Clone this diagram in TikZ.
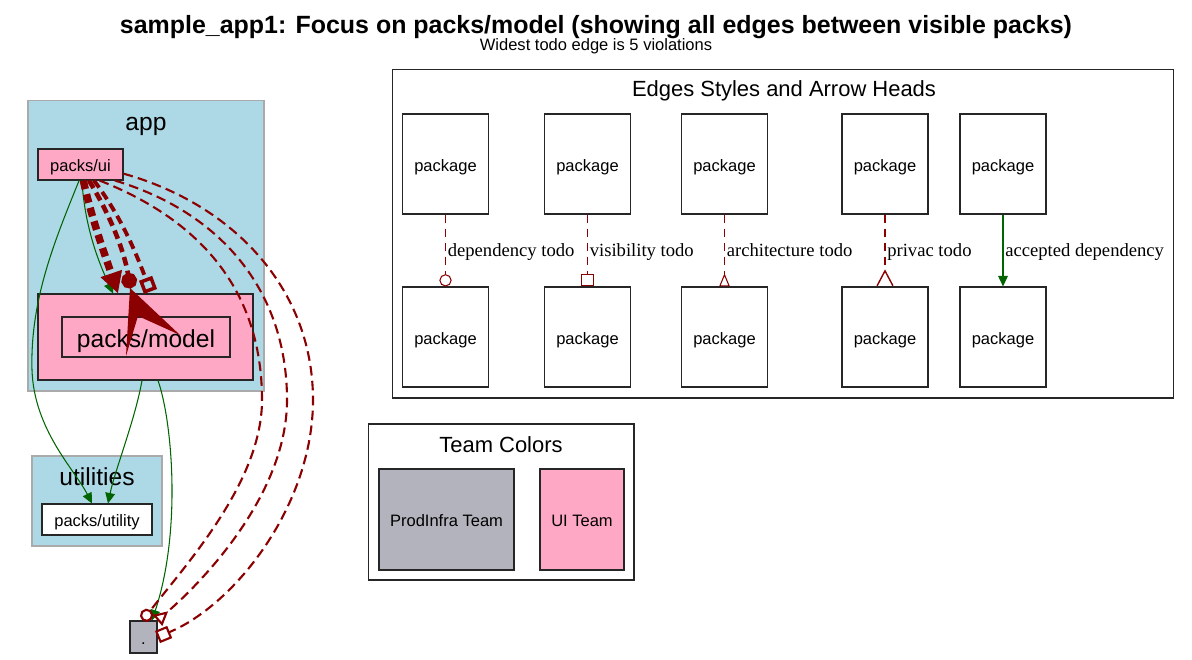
\documentclass[tikz,border=0pt]{standalone}
\usepackage{fontspec}
\setmainfont{Liberation Serif}
\setsansfont{Liberation Sans}
\usetikzlibrary{arrows.meta}

\definecolor{clusterblue}{HTML}{ADD8E6}
\definecolor{teampink}{HTML}{FFA8C5}
\definecolor{teamgray}{HTML}{B3B3BE}
\definecolor{todored}{HTML}{8B0000}
\definecolor{okgreen}{HTML}{006400}
\definecolor{clusteredge}{HTML}{AAAAAA}

\tikzset{
    pack/.style={draw=black!85, line width=0.6pt, inner sep=0pt,
        font=\sffamily\fontsize{9.4}{11}\selectfont, text height=8.5pt, text depth=0pt},
    legendpack/.style={pack, minimum width=1.72cm, minimum height=2cm},
    cluster/.style={draw=clusteredge, fill=clusterblue, line width=0.6pt},
    clusterlabel/.style={font=\sffamily\fontsize{14}{16}\selectfont, inner sep=0pt, anchor=base},
    frame/.style={draw=black!85, line width=0.6pt},
    framelabel/.style={font=\sffamily\fontsize{12.5}{14}\selectfont, inner sep=0pt, anchor=base},
    todo/.style={todored, line width=1.2pt, dash pattern=on 5.5pt off 3pt},
    thintodo/.style={todored, line width=0.6pt, dash pattern=on 5pt off 3pt},
    ok/.style={okgreen, line width=0.6pt, -{Triangle[length=6pt, width=5.5pt]}},
    edgelabel/.style={font=\fontsize{10.6}{12}\selectfont, inner sep=1pt, text=black,
        anchor=base west},
}

\begin{document}
\begin{tikzpicture}[x=0.02cm, y=-0.02cm]
    \useasboundingbox (0,0) rectangle (1192,659);

    \node[font=\sffamily\bfseries\fontsize{14.2}{16}\selectfont, anchor=base] (title) at (596,33.5)
        {sample\_app1: Focus on packs/model (showing all edges between visible packs)};
    \node[font=\sffamily\fontsize{9.4}{11}\selectfont, anchor=base] (subtitle) at (596,50.5)
        {Widest todo edge is 5 violations};

    % app and utilities
    \node[cluster, minimum width=4.72cm, minimum height=5.82cm] (app) at (146,245.5) {};
    \node[clusterlabel] (applabel) at (146,130) {app};
    \node[pack, fill=teampink, minimum width=1.7cm, minimum height=0.62cm] (ui) at (80.5,164.5) {packs/ui};
    \node[pack, fill=teampink, minimum width=4.3cm, minimum height=1.72cm] (modelbox) at (145.5,337) {};
    \node[pack, fill=teampink, minimum width=3.36cm, minimum height=0.8cm, text height=12.4pt,
        font=\sffamily\fontsize{14}{16}\selectfont] (model) at (146,337) {packs/model};

    \node[cluster, minimum width=2.6cm, minimum height=1.8cm] (utilities) at (97,501) {};
    \node[clusterlabel] (utilitieslabel) at (97,485) {utilities};
    \node[pack, fill=white, minimum width=2.2cm, minimum height=0.62cm] (utility) at (97,519.5) {packs/utility};

    \node[pack, fill=teamgray, minimum width=0.54cm, minimum height=0.64cm] (root) at (143.5,637) {.};

    % accepted dependencies
    \draw[ok] (ui.-95) .. controls (55,240) and (30,300) .. (32,370)
        .. controls (34,430) and (75,470) .. ([xshift=-0.1cm]utility.north);
    \draw[ok] (ui.-85) .. controls (85,230) and (100,265) .. ([xshift=-0.65cm]modelbox.north);
    \draw[ok] ([xshift=-0.07cm]modelbox.south) .. controls (135,420) and (115,470) .. ([xshift=0.22cm]utility.north);
    \draw[ok] ([xshift=0.25cm]modelbox.south) .. controls (172,420) and (182,530) .. ([xshift=0.17cm]root.north);

    % todo edges ui -> model
    \draw[todored, line width=4.2pt, dash pattern=on 5pt off 3pt,
        -{Triangle[length=12pt, width=12pt]}]
        (ui.-80) .. controls (92,220) and (105,255) .. ([xshift=-0.55cm]modelbox.north);
    \draw[todored, line width=2.6pt, dash pattern=on 5pt off 3pt,
        -{Circle[length=9pt, fill=todored]}]
        (ui.-62) .. controls (110,215) and (124,250) .. ([xshift=-0.3cm, yshift=0.1cm]modelbox.north);
    \draw[todored, line width=2.2pt, dash pattern=on 5pt off 3pt,
        -{Square[open, length=8pt, line width=2pt]}]
        (ui.-50) .. controls (120,215) and (135,250) .. ([xshift=0.1cm, yshift=0.04cm]modelbox.north);
    \fill[todored] (130,288) -- (126,356) -- (138,316) -- (180,335) -- cycle;

    % todo edges ui -> root
    \draw[todo, -{Circle[open, length=7.5pt, line width=1.2pt]}]
        (ui.-40) .. controls (200,220) and (262,290) .. (262,400)
        .. controls (262,480) and (190,560) .. ([xshift=-0.02cm]root.north);
    \draw[todo, -{Triangle[open, reversed, length=8pt, width=8pt, line width=1.2pt]}]
        (ui.-25) .. controls (220,212) and (287,290) .. (287,400)
        .. controls (287,490) and (210,575) .. (root.north east);
    \draw[todo, -{Square[open, length=7.5pt, line width=1.2pt]}]
        (ui.-12) .. controls (235,205) and (313,290) .. (313,400)
        .. controls (313,505) and (235,605) .. (root.east);

    % legend: edge styles
    \node[frame, minimum width=15.64cm, minimum height=6.58cm] (legend) at (783,233.5) {};
    \node[framelabel] (legendlabel) at (784,96) {Edges Styles and Arrow Heads};

    \node[legendpack] (deptop) at (445.5,164) {package};
    \node[legendpack] (depbot) at (445.5,337) {package};
    \node[legendpack] (vistop) at (587.5,164) {package};
    \node[legendpack] (visbot) at (587.5,337) {package};
    \node[legendpack] (archtop) at (724.5,164) {package};
    \node[legendpack] (archbot) at (724.5,337) {package};
    \node[legendpack] (privtop) at (885,164) {package};
    \node[legendpack] (privbot) at (885,337) {package};
    \node[legendpack] (acctop) at (1003,164) {package};
    \node[legendpack] (accbot) at (1003,337) {package};

    \draw[thintodo, -{Circle[open, length=7pt, line width=0.6pt]}] (deptop) -- (depbot)
        node[edgelabel, pos=0.59] {dependency todo};
    \draw[thintodo, -{Square[open, length=7pt, line width=0.6pt]}] (vistop) -- (visbot)
        node[edgelabel, pos=0.59] {visibility todo};
    \draw[thintodo, -{Triangle[open, reversed, length=7.5pt, width=6pt, line width=0.6pt]}] (archtop) -- (archbot)
        node[edgelabel, pos=0.59] {architecture todo};
    \draw[thintodo, -{Straight Barb[reversed, length=8.5pt, width=9pt, line width=0.8pt]}] (privtop) -- (privbot)
        node[edgelabel, pos=0.59] {privac todo};
    \draw[ok] (acctop) -- (accbot)
        node[edgelabel, pos=0.59] {accepted dependency};

    % legend: team colours
    \node[frame, minimum width=5.32cm, minimum height=3.12cm] (teams) at (501,502) {};
    \node[framelabel] (teamslabel) at (501,452) {Team Colors};
    \node[pack, fill=teamgray, minimum width=2.7cm, minimum height=2.02cm] (prodinfra) at (446.5,519.5) {ProdInfra Team};
    \node[pack, fill=teampink, minimum width=1.68cm, minimum height=2.02cm] (uiteam) at (582,519.5) {UI Team};
\end{tikzpicture}
\end{document}
